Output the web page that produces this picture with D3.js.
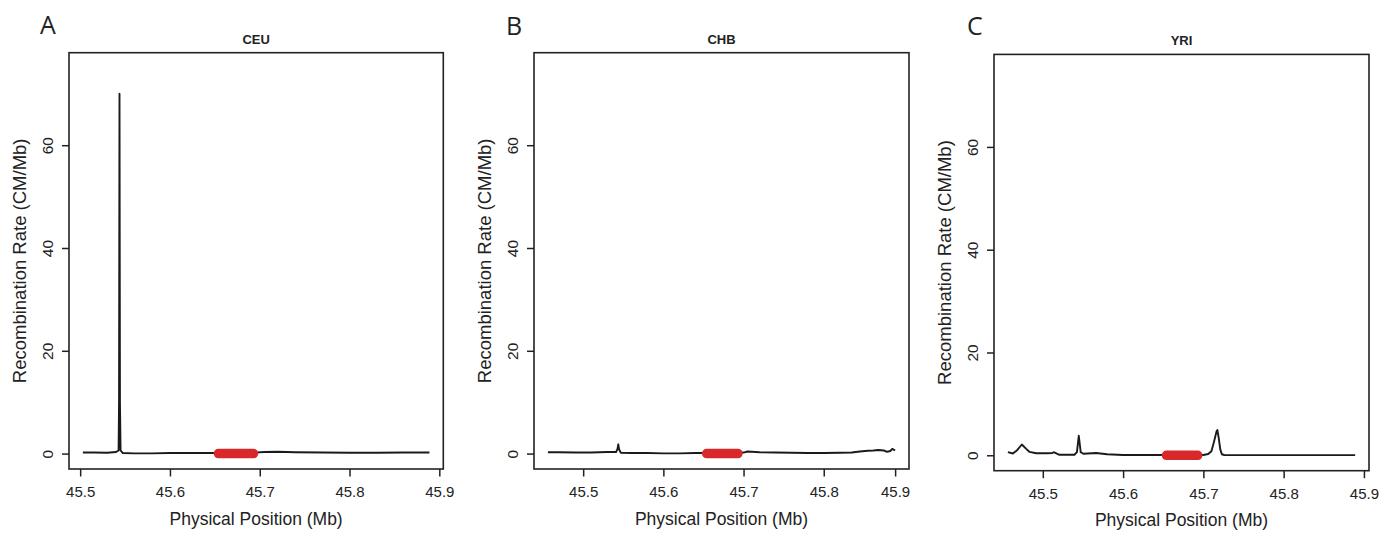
<!DOCTYPE html>
<html>
<head>
<meta charset="utf-8">
<script src="https://cdn.jsdelivr.net/npm/d3@7"></script>
<style>
  html, body { margin: 0; padding: 0; background: #fff; }
  svg { display: block; }
  text { font-family: "Liberation Sans", Arial, Helvetica, sans-serif; fill: #222; }
</style>
</head>
<body>
<svg id="chart" width="1398" height="540"></svg>
<script>
// ---------------- data ----------------
const panelLetters = ["A", "B", "C"];
const populations = ["CEU", "CHB", "YRI"];

const ceuPos  = [45.503, 45.515, 45.53, 45.54, 45.5428, 45.5433, 45.5438, 45.5443, 45.545, 45.5475, 45.56, 45.58, 45.6, 45.63, 45.66, 45.69, 45.705, 45.72, 45.74, 45.77, 45.8, 45.83, 45.86, 45.889];
const ceuRate = [0.2, 0.2, 0.15, 0.3, 0.6, 10, 70, 10, 0.6, 0.1, 0.05, 0.05, 0.1, 0.1, 0.1, 0.15, 0.3, 0.35, 0.25, 0.2, 0.15, 0.15, 0.2, 0.2];

const chbPos  = [45.456, 45.47, 45.49, 45.51, 45.53, 45.541, 45.5428, 45.5438, 45.5448, 45.547, 45.56, 45.58, 45.6, 45.62, 45.64, 45.66, 45.68, 45.7, 45.705, 45.71, 45.72, 45.74, 45.76, 45.78, 45.8, 45.82, 45.835, 45.845, 45.855, 45.862, 45.868, 45.875, 45.879, 45.883, 45.8855, 45.889];
const chbRate = [0.25, 0.25, 0.2, 0.2, 0.3, 0.3, 0.9, 1.8, 0.8, 0.15, 0.1, 0.1, 0.05, 0.05, 0.1, 0.1, 0.1, 0.2, 0.4, 0.35, 0.25, 0.2, 0.15, 0.1, 0.1, 0.15, 0.2, 0.4, 0.55, 0.6, 0.7, 0.6, 0.35, 0.5, 0.9, 0.6];

const yriPos  = [45.4565, 45.4627, 45.468, 45.4739, 45.479, 45.4835, 45.4917, 45.505, 45.512, 45.5135, 45.5207, 45.5394, 45.5425, 45.5448, 45.5472, 45.5506, 45.5664, 45.58, 45.6, 45.65, 45.7, 45.706, 45.71, 45.713, 45.7165, 45.7175, 45.719, 45.721, 45.723, 45.726, 45.75, 45.8, 45.85, 45.889];
const yriRate = [0.6, 0.35, 1.0, 2.1, 1.3, 0.65, 0.4, 0.4, 0.45, 0.6, 0.1, 0.1, 0.6, 3.8, 0.6, 0.3, 0.45, 0.2, 0.05, 0.05, 0.05, 0.25, 0.8, 2.5, 4.7, 4.9, 3.5, 1.2, 0.2, 0.05, 0.03, 0.03, 0.03, 0.03];

const xTickValues    = [45.5, 45.6, 45.7, 45.8, 45.9];
const chbXTickValues = [45.5, 45.6, 45.7, 45.8, 45.889]; // last tick sits at the data end in the source
const yTickValues    = [0, 20, 40, 60];
const yLimits        = [0, 75];
const geneRegion     = [45.654, 45.693];

const xTitle = "Physical Position (Mb)";
const yTitle = "Recombination Rate (CM/Mb)";

// ---------------- layout ----------------
const layout = [
  { left: 69,  right: 443.3, top: 52.7, bottom: 469,   letterX: 40,  letterY: 34.3 },
  { left: 534, right: 909,   top: 52.7, bottom: 469,   letterX: 506, letterY: 34.5 },
  { left: 994, right: 1369,  top: 54.4, bottom: 470.7, letterX: 967, letterY: 35 }
];

const series = [
  { pos: ceuPos, rate: ceuRate, ticks: xTickValues },
  { pos: chbPos, rate: chbRate, ticks: chbXTickValues },
  { pos: yriPos, rate: yriRate, ticks: xTickValues }
];

const svg = d3.select("#chart");
svg.append("rect").attr("width", 1398).attr("height", 540).attr("fill", "#fff");

function padded(lo, hi) {
  const p = (hi - lo) * 0.04;
  return [lo - p, hi + p];
}

series.forEach((s, i) => {
  const L = layout[i];
  const ext = d3.extent(s.pos);
  const x = d3.scaleLinear().domain(padded(ext[0], ext[1])).range([L.left, L.right]);
  const y = d3.scaleLinear().domain(padded(yLimits[0], yLimits[1])).range([L.bottom, L.top]);
  const g = svg.append("g");

  // x axis
  const xa = g.append("g")
    .attr("transform", `translate(0,${L.bottom})`)
    .call(d3.axisBottom(x).tickValues(s.ticks).tickFormat(d3.format(".1f")).tickSize(7.5).tickSizeOuter(0));
  xa.select(".domain").remove();
  xa.selectAll(".tick line").attr("stroke", "#222").attr("stroke-width", 1.5);
  xa.selectAll(".tick text")
    .attr("y", 28.3).attr("dy", 0)
    .style("font-family", "'Liberation Sans', Arial, sans-serif")
    .style("font-size", "15px").attr("fill", "#333");

  // y axis
  const ya = g.append("g")
    .attr("transform", `translate(${L.left},0)`)
    .call(d3.axisLeft(y).tickValues(yTickValues).tickSize(7).tickSizeOuter(0));
  ya.select(".domain").remove();
  ya.selectAll(".tick line").attr("stroke", "#222").attr("stroke-width", 1.5);
  ya.selectAll(".tick text")
    .attr("x", 0).attr("y", 0).attr("dy", 0)
    .attr("text-anchor", "middle")
    .attr("transform", "translate(-15.7,0) rotate(-90)")
    .style("font-family", "'Liberation Sans', Arial, sans-serif")
    .style("font-size", "15.5px").attr("fill", "#333");

  // frame
  g.append("rect")
    .attr("x", L.left).attr("y", L.top)
    .attr("width", L.right - L.left).attr("height", L.bottom - L.top)
    .attr("fill", "none").attr("stroke", "#222").attr("stroke-width", 1.6);

  // recombination line
  const pts = s.pos.map((p, k) => [p, s.rate[k]]);
  g.append("path")
    .datum(pts)
    .attr("fill", "none")
    .attr("stroke", "#1a1a1a")
    .attr("stroke-width", 1.9)
    .attr("stroke-linejoin", "round")
    .attr("d", d3.line().x(d => x(d[0])).y(d => y(d[1])));

  // gene region
  g.append("line")
    .attr("x1", x(geneRegion[0])).attr("x2", x(geneRegion[1]))
    .attr("y1", y(0)).attr("y2", y(0))
    .attr("stroke", "#d8282c").attr("stroke-width", 9.5)
    .attr("stroke-linecap", "round");

  // titles
  g.append("text")
    .attr("x", (L.left + L.right) / 2).attr("y", L.top - 9)
    .attr("text-anchor", "middle")
    .style("font-size", "13px").style("font-weight", "bold")
    .text(populations[i]);

  g.append("text")
    .attr("x", (L.left + L.right) / 2).attr("y", L.bottom + 55.5)
    .attr("text-anchor", "middle")
    .style("font-size", "17.5px").attr("fill", "#333")
    .text(xTitle);

  g.append("text")
    .attr("transform", `translate(${L.left - 43},${(L.top + L.bottom) / 2}) rotate(-90)`)
    .attr("text-anchor", "middle")
    .style("font-size", "18.5px").attr("fill", "#333")
    .text(yTitle);

  g.append("text")
    .attr("x", L.letterX).attr("y", L.letterY)
    .style("font-family", "'Open Sans', 'Noto Sans', sans-serif")
    .style("font-size", "25px").attr("fill", "#222")
    .text(panelLetters[i]);
});
</script>
</body>
</html>
